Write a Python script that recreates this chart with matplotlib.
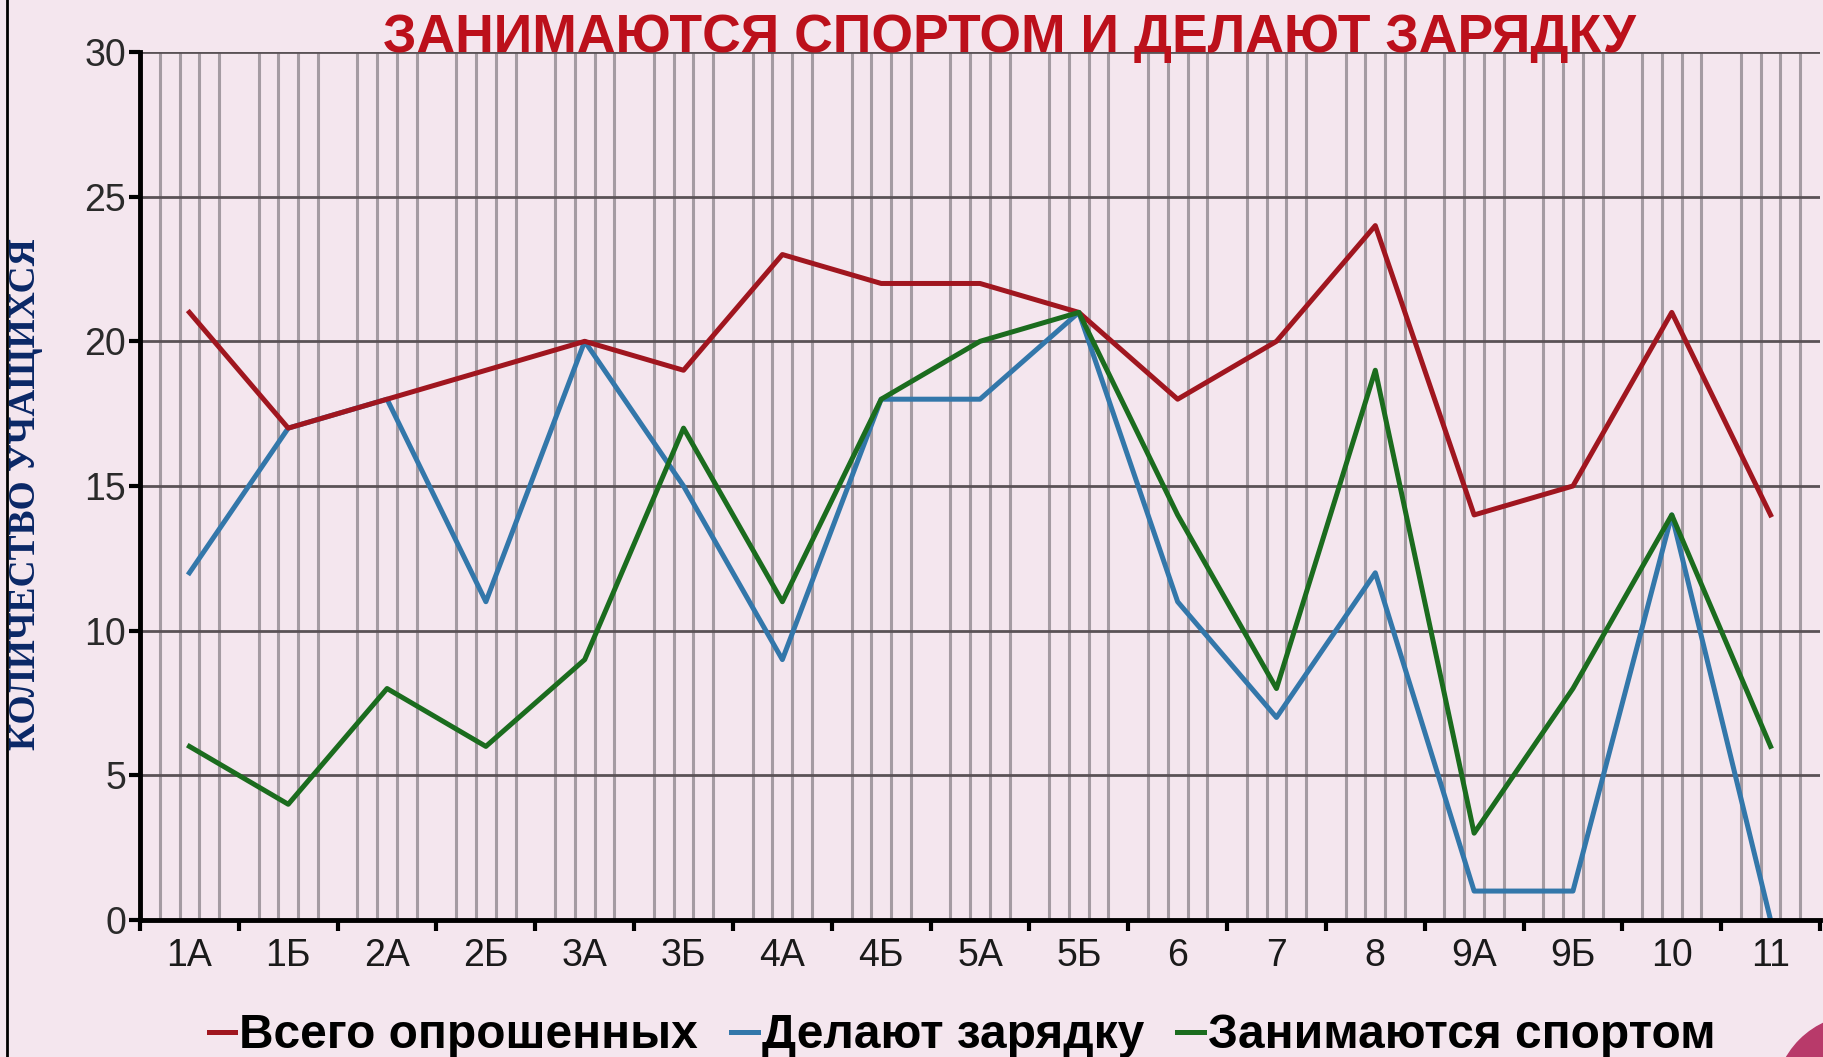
import numpy as np
import matplotlib
matplotlib.use('Agg')
import matplotlib.pyplot as plt
from matplotlib.lines import Line2D
from matplotlib.patches import Circle
from matplotlib.transforms import IdentityTransform

# classes and survey counts
classes = ['1А', '1Б', '2А', '2Б', '3А', '3Б', '4А', '4Б', '5А', '5Б',
           '6', '7', '8', '9А', '9Б', '10', '11']
total = [21, 17, 18, 19, 20, 19, 23, 22, 22, 21, 18, 20, 24, 14, 15, 21, 14]
exercise = [12, 17, 18, 11, 20, 15, 9, 18, 18, 21, 11, 7, 12, 1, 1, 14, 0]
sport = [6, 4, 8, 6, 9, 17, 11, 18, 20, 21, 14, 8, 19, 3, 8, 14, 6]
y_ticks = [0, 5, 10, 15, 20, 25, 30]

bg = '#f4e6ee'
plt.rcParams['font.family'] = ['Liberation Sans', 'DejaVu Sans']

fig = plt.figure(figsize=(18.24, 10.57), dpi=100, facecolor=bg)
ax = fig.add_axes([140 / 1824, 137 / 1057, 1680 / 1824, 868 / 1057])
ax.set_facecolor(bg)

x = np.arange(len(classes))
ax.plot(x, total, color='#a0161f', lw=3.6, label='Всего опрошенных', zorder=5)
ax.plot(x, exercise, color='#3377aa', lw=3.6, label='Делают зарядку', zorder=4)
ax.plot(x, sport, color='#1b6c1e', lw=3.6, label='Занимаются спортом', zorder=6)

ax.set_xlim(-0.5, len(classes) - 0.5)
ax.set_ylim(0, 30)

# thin vertical grid: four lines inside every class slot
for b in np.arange(-0.5, len(classes) - 0.5):
    for f in (0.2, 0.4, 0.6, 0.8):
        ax.axvline(b + f, color='#a49ba2', lw=2.2, zorder=1)
for yv in y_ticks[1:]:
    ax.axhline(yv, color='#5a5256', lw=2.0, zorder=2)

ax.set_xticks(x)
ax.set_xticklabels(classes)
ax.set_xticks(np.arange(-0.5, len(classes)), minor=True)
ax.tick_params(axis='x', which='major', length=0, pad=13, labelsize=27,
               labelcolor='#1a1a1a')
ax.tick_params(axis='x', which='minor', length=8, width=3, color='black',
               direction='out')
ax.set_yticks(y_ticks)
ax.tick_params(axis='y', length=8, width=3, color='black', labelsize=27,
               labelcolor='#2a2a2a', pad=2)

for s in ('top', 'right'):
    ax.spines[s].set_visible(False)
for s in ('left', 'bottom'):
    ax.spines[s].set_linewidth(3.5)
    ax.spines[s].set_color('black')
    ax.spines[s].set_zorder(7)

fig.text(1009 / 1824, 1 - 38 / 1057, 'ЗАНИМАЮТСЯ СПОРТОМ И ДЕЛАЮТ ЗАРЯДКУ',
         ha='center', va='center', fontsize=38.5, fontweight='bold',
         color='#bc101b', zorder=10)
fig.text(26 / 1824, 1 - 494 / 1057, 'КОЛИЧЕСТВО УЧАЩИХСЯ', rotation=90,
         ha='center', va='center', fontsize=27, fontweight='bold',
         color='#0a2766', family='Liberation Serif')

fig.legend(loc='center', bbox_to_anchor=(962 / 1824, 1 - 1036 / 1057),
           ncol=3, frameon=False, handlelength=0.55, handletextpad=0.08,
           columnspacing=0.7, prop={'size': 34.5, 'weight': 'bold'})

# left frame line and the corner dot
fig.add_artist(Line2D([7 / 1824, 7 / 1824], [0, 1], color='black', lw=2,
                      transform=fig.transFigure))
fig.add_artist(Circle((1860, -43), 85, color='#b83a6a',
                      transform=IdentityTransform()))

fig.savefig('out.png', dpi=100, facecolor=bg)
